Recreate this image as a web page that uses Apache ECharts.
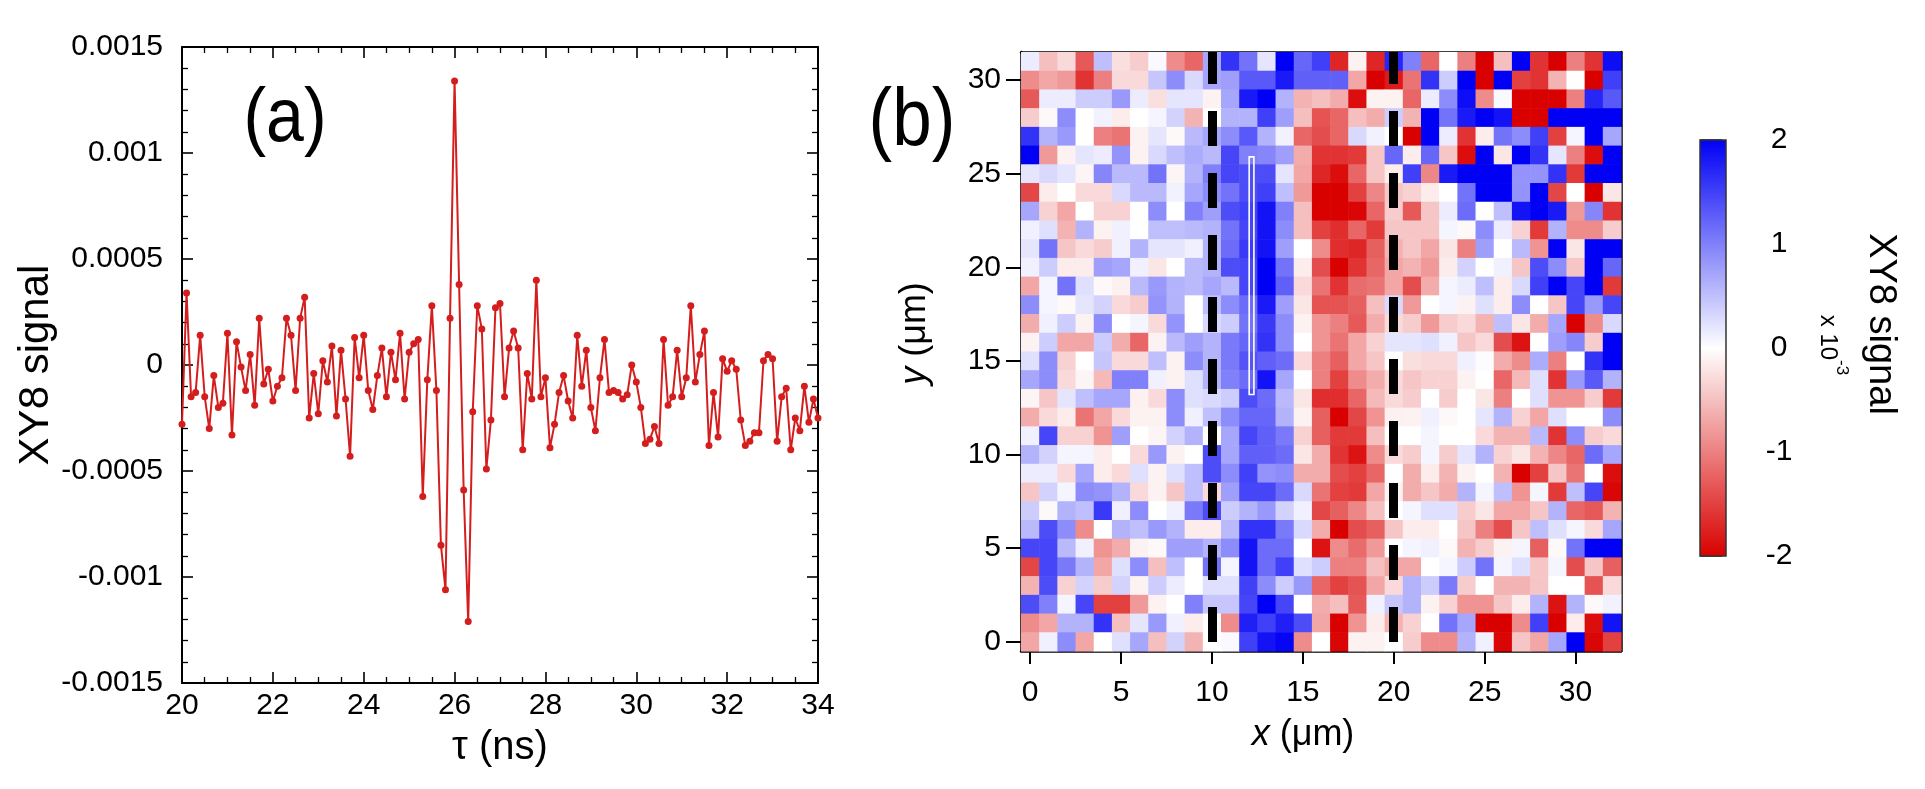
<!DOCTYPE html>
<html>
<head>
<meta charset="utf-8">
<script src="https://cdn.jsdelivr.net/npm/echarts@6/dist/echarts.min.js"></script>
<style>
html,body{margin:0;padding:0;background:#fff;}
#chart{width:1925px;height:789px;}
</style>
</head>
<body>
<div id="chart"></div>
<script>
// ---------- panel (a): XY8 signal vs tau ----------
const tauNs = [
20.0,20.1,20.2,20.3,20.4,20.5,20.6,20.7,20.8,20.9,
21.0,21.1,21.2,21.3,21.4,21.5,21.6,21.7,21.8,21.9,
22.0,22.1,22.2,22.3,22.4,22.5,22.6,22.7,22.8,22.9,
23.0,23.1,23.2,23.3,23.4,23.5,23.6,23.7,23.8,23.9,
24.0,24.1,24.2,24.3,24.4,24.5,24.6,24.7,24.8,24.9,
25.0,25.1,25.2,25.3,25.4,25.5,25.6,25.7,25.8,25.9,
26.0,26.1,26.2,26.3,26.4,26.5,26.6,26.7,26.8,26.9,
27.0,27.1,27.2,27.3,27.4,27.5,27.6,27.7,27.8,27.9,
28.0,28.1,28.2,28.3,28.4,28.5,28.6,28.7,28.8,28.9,
29.0,29.1,29.2,29.3,29.4,29.5,29.6,29.7,29.8,29.9,
30.0,30.1,30.2,30.3,30.4,30.5,30.6,30.7,30.8,30.9,
31.0,31.1,31.2,31.3,31.4,31.5,31.6,31.7,31.8,31.9,
32.0,32.1,32.2,32.3,32.4,32.5,32.6,32.7,32.8,32.9,
33.0,33.1,33.2,33.3,33.4,33.5,33.6,33.7,33.8,33.9,
34.0];
const xy8Signal = [
-0.00028,0.00034,-0.00015,-0.00013,0.00014,-0.00015,-0.00030,-0.00005,-0.00020,-0.00018,
0.00015,-0.00033,0.00011,-0.00001,-0.00012,0.00005,-0.00019,0.00022,-0.00009,-0.00002,
-0.00017,-0.00010,-0.00006,0.00022,0.00014,-0.00012,0.00022,0.00032,-0.00025,-0.00004,
-0.00023,0.00002,-0.00008,0.00009,-0.00024,0.00007,-0.00016,-0.00043,0.00013,-0.00006,
0.00014,-0.00012,-0.00021,-0.00005,0.00008,-0.00015,0.00006,-0.00007,0.00015,-0.00016,
0.00006,0.00010,0.00012,-0.00062,-0.00007,0.00028,-0.00012,-0.00085,-0.00106,0.00022,
0.00134,0.00038,-0.00059,-0.00121,-0.00022,0.00028,0.00017,-0.00049,-0.00026,0.00027,
0.00029,-0.00015,0.00008,0.00016,0.00008,-0.00040,-0.00004,-0.00016,0.00040,-0.00015,
-0.00006,-0.00039,-0.00028,-0.00013,-0.00005,-0.00017,-0.00025,0.00014,-0.00010,0.00007,
-0.00020,-0.00031,-0.00006,0.00012,-0.00013,-0.00012,-0.00013,-0.00016,-0.00014,0.00000,
-0.00008,-0.00020,-0.00037,-0.00035,-0.00029,-0.00037,0.00012,-0.00019,-0.00015,0.00007,
-0.00015,-0.00006,0.00028,-0.00008,0.00005,0.00016,-0.00038,-0.00013,-0.00034,0.00003,
-0.00003,0.00002,-0.00002,-0.00026,-0.00038,-0.00036,-0.00032,-0.00032,0.00002,0.00005,
0.00003,-0.00036,-0.00015,-0.00011,-0.00040,-0.00025,-0.00031,-0.00010,-0.00027,-0.00016,
-0.00025];

// ---------- panel (b): XY8 map (units of 1e-3), rows listed from y = 31 (top) down to y = 0 ----------
const mapXum = [0,1,2,3,4,5,6,7,8,9,10,11,12,13,14,15,16,17,18,19,20,21,22,23,24,25,26,27,28,29,30,31,32];
const mapYum = [31,30,29,28,27,26,25,24,23,22,21,20,19,18,17,16,15,14,13,12,11,10,9,8,7,6,5,4,3,2,1,0];
const mapRows = [
[0.15,-0.5,-0.3,-1.3,0.5,-0.25,-0.4,0.05,-0.9,-1.2,0.7,1.6,1.1,0.2,2,1.2,1.5,-1.7,-0.1,-1.7,1.7,1.0,-1.2,0,-1.0,-2,-0.5,2,-1.6,-2,-1.0,-1.6,1.9],
[-0.9,-0.7,-0.8,-1.6,-1.0,-0.3,-0.3,0.45,0.9,0.3,0.7,0.75,1.3,1.3,1.8,1.25,1.25,1.25,-0.7,-2,-1.8,-1.1,1.6,0.4,2,-2,2,-1.5,-1.6,-0.6,0,-2,1.5],
[-1.3,0.15,0.15,0.4,0.4,0.8,0.15,-0.25,0.2,0.2,-0.1,0.7,1.8,2,0.6,-0.6,-0.5,-0.65,-1.9,-0.1,-0.1,-1.2,0.15,0.9,1.9,-0.9,0.05,-2,-2,-2,-1.0,1.7,1.3],
[-0.4,-0.05,0.9,0,0.1,-0.15,0,0.08,0.35,-0.6,0,0.6,0.6,1.5,0.75,-0.5,-1.35,-1.2,-0.5,-0.65,0.4,-0.6,2,1.1,1.8,2,1.85,-2,-2,2,2,2,2],
[1.6,0.6,0.8,0,-1.0,-1.1,-0.1,0.2,-0.05,0.55,0.7,0.9,1.3,0.6,0.1,-1.2,-1.4,-1.2,0.3,0.1,0,-2,2,0.15,-1.6,-0.15,1.1,0.9,1.5,-1.5,0.08,2,0.7],
[2,-0.8,-0.1,0.2,0.15,0.85,-0.1,0.3,0.5,0.65,0.55,1.45,1.0,0.95,0.75,-0.65,-1.6,-1.6,-1.55,-0.45,1.2,-0.15,1.2,-0.45,-1.9,2,-0.2,2,1.6,0.2,-1.0,-1.9,2],
[0.2,0.3,0.2,-0.08,0.95,0.55,0.55,1.1,-0.08,0.6,1.0,1.45,1.4,1.4,0.2,-0.7,-1.7,-1.9,-1.2,-0.45,-0.15,1.5,-0.95,1.8,2,2,2,0.85,0.85,1.6,-1.55,2,2],
[-1.45,-0.15,0,-0.3,-0.3,0.3,0.55,0.55,0.1,0.7,0.9,1.1,1.4,1.5,0.5,-0.8,-2,-2,-1.5,-0.95,-0.45,-0.35,-0.15,0,1.1,2,2,0.85,2,-1.45,0,-2,-0.2],
[0.7,-0.35,-0.7,0,-0.35,-0.35,0,0.9,0,1.0,0.75,1.4,1.5,1.85,1.0,-0.5,-2,-2,-1.95,-1.2,-0.4,-1.3,-0.45,0.15,1.15,0,0.5,1.85,2,1.8,-0.8,0.95,-1.6],
[0.12,0.25,-0.6,0.6,-0.1,0.12,0,0.5,0.5,0.55,0.6,1.1,1.45,1.85,0.9,-0.5,-1.5,-1.65,-1.2,-1.55,-0.45,-0.45,-0.45,0.08,-0.05,0.9,0.15,-0.35,-1.55,0.6,-0.9,-0.9,-0.4],
[0.2,1.1,-0.45,-0.3,-0.4,0.12,0.6,0.2,0.2,0.12,0.6,1.15,1.55,1.85,0.75,0,-0.9,-1.65,-1.7,-1.25,-0.6,-0.45,-0.7,-0.2,-1.0,0.75,0,0.55,-0.85,2,-0.2,2,2],
[0.12,0.4,-0.15,-0.15,0.75,0.7,0.12,-0.2,0,0.55,0.6,1.4,1.45,2,1.1,-0.15,-1.4,-2,-1.6,-1.2,-0.7,-0.6,-0.8,-0.15,0.35,0,0.12,-0.45,1.4,0.9,-0.45,2,1.2],
[-0.7,0.08,1.1,0.25,-0.05,-0.12,0.55,0.8,0.6,0.55,0.7,0.55,1.45,2,1.25,-0.3,-1.1,-1.6,-1.15,-1.1,-0.7,-1.4,-0.65,0.08,0.15,0.5,-0.15,0.3,1.5,2,1.45,2,-1.55],
[0.9,0.08,-0.05,0.2,0.35,-0.3,-0.4,0.85,0.6,0,0.5,0.9,1.15,1.8,0.75,-0.2,-1.35,-1.35,-1.25,-0.5,0.3,-0.8,0,0.08,-0.1,0.25,-0.15,0.9,0,-0.45,1.45,0.8,1.45],
[-0.65,0.12,0.4,-0.1,0.9,0,0.08,-0.3,0.85,0,0.3,0.4,1.1,1.55,0.9,-0.1,-0.85,-1.0,-1.3,-0.65,-0.3,-0.4,-0.8,-0.4,-0.3,-0.6,0.5,-0.2,-0.65,0.7,-2,-0.9,0.3],
[-0.1,0.4,-0.7,-0.7,0.4,-0.65,-1.2,-0.1,0.55,0.75,0.6,1.05,1.2,1.6,0.9,0,-0.85,-1.1,-0.7,-0.35,0.2,0.2,0.25,0.12,-0.45,-0.3,-1.4,-1.85,0,0.75,0.95,-0.4,2],
[0.25,0.9,-0.35,0,0.45,-0.3,-0.3,0.5,-0.1,0.9,0.6,1.05,1.35,1.25,1.15,-0.3,-1.0,-1.25,-0.7,-0.45,0,-0.25,-0.3,-0.3,0.12,0.02,-0.65,-0.9,0.65,-1.0,0,1.6,2],
[0.7,0.9,-0.3,-0.08,-0.55,1.0,1.0,0.12,-0.1,0.25,0.6,1.0,1.15,1.85,0.7,0,-1.0,-1.5,-0.9,-0.65,-0.3,-0.45,-0.35,-0.35,-0.1,0,-1.2,-0.55,0.25,-1.6,0.8,1.3,0.6],
[-0.08,-0.45,0.2,0.5,0.7,0.7,-0.12,-0.3,0.9,0.25,0.3,0.4,1.4,1.15,0.55,-0.2,-1.65,-1.65,-1.2,-0.55,-0.3,-0.4,0,-0.4,0,-0.2,-1.0,0,0.25,-0.85,-0.85,-0.4,-1.55],
[-0.65,-0.3,-0.15,-1.1,-0.7,-0.3,-0.1,-0.1,0.9,0.12,0.5,0.9,1.2,1.2,0.6,-0.1,-1.25,-2,-1.45,-0.85,-0.12,-0.1,0.12,-0.05,0,0.2,0.6,-0.35,-0.7,0.25,0,0,0.9],
[0.12,1.45,-0.35,-0.35,-0.85,0.75,0,-0.08,0.35,0.6,0,0.7,1.45,1.25,1.05,-0.35,-1.25,-1.55,-1.55,-0.5,0,0,0.08,0,0,-0.3,-0.6,-0.6,0.55,-1.6,0.9,-0.4,-0.3],
[0.6,0.35,0.08,0.08,-0.15,0,-0.3,0.8,-0.1,0,1.4,0.7,1.25,1.25,1.15,-0.2,-0.65,-1.6,-1.85,-0.9,-0.3,-0.4,0.08,-0.4,0.2,0.6,-0.35,-0.2,-0.6,-0.95,-1.2,1.15,0.7],
[0.15,0.15,-0.3,0.7,-0.15,-0.3,0.25,-0.1,0.25,0.5,1.4,0.9,1.5,0.85,0.9,-0.65,-0.65,-1.4,-1.5,-1.2,0,-0.65,-0.15,-0.6,-0.1,0,-0.6,-2,-1.5,-0.45,-1.1,0,-1.9],
[-0.45,0.35,0.08,0.9,0.85,0.6,-0.3,-0.1,-0.45,0.5,-0.3,0.75,1.45,1.45,1.15,0.3,-1.1,-1.5,-1.55,-0.7,-0.1,-0.65,-0.45,-0.65,0.6,0.08,0.5,-0.85,0.08,-1.55,0.5,1.45,-1.95],
[0.4,-0.05,0.6,0.5,1.55,0.12,0.9,0,0.12,1.05,1.4,0.4,0.6,0.8,0.35,0.12,-1.45,-1.25,-0.95,-0.5,0,0.08,0.25,0.25,-0.4,-0.2,-0.7,-0.7,-0.45,0.6,-1.2,-1.3,-0.6],
[0.55,1.4,0.9,-0.9,0,0.6,0.5,0.8,0.6,-0.15,-0.15,0.55,1.6,1.6,1.05,0.3,-0.65,-2,-1.4,-1.25,-0.45,-0.15,-0.15,0,-0.45,-1.0,-1.4,-0.45,0.5,0.25,0.08,-0.3,0.7],
[1.45,1.45,0.55,0.12,-0.85,-0.65,-0.1,-0.05,0.75,0.75,0.6,0.9,1.85,1.15,1.15,0,-1.85,-0.9,-1.15,-0.8,0,0.08,0.12,-0.05,-0.6,-0.4,-0.1,0.08,-1.25,-0.05,1.1,2,2],
[-1.45,1.45,1.05,0.6,-0.7,0.25,0.9,-0.5,0.5,0,1.1,0.08,1.85,1.15,1.5,0.25,0.4,-1.0,-1.0,-0.5,-0.7,-0.7,0,0.08,0.4,1.1,0.08,0.25,-0.45,0.08,-1.4,-0.45,-1.25],
[-0.6,1.4,-0.35,0.35,-0.4,0.35,-0.1,0.4,0.15,0,0.25,0.25,1.5,0.9,0.4,0.8,-1.2,-1.5,-1.35,-0.7,-0.3,0.6,0.4,1.05,-0.4,0,-0.6,-0.6,-0.45,0,0,-1.35,-0.3],
[1.4,1.0,0.08,1.45,-1.5,-1.5,-0.8,-0.1,0,1.0,0.45,0.45,1.45,2,1.45,0,-0.65,-0.5,-1.3,0.12,0.45,0.6,-0.1,-0.35,-0.85,-0.85,-0.45,-0.15,0.6,-1.85,0.6,-0.05,0.1],
[-0.9,-0.7,0.6,0.6,1.6,-0.5,0.2,0.8,0.12,-0.15,0,-0.9,1.75,1.5,1.75,1.4,-0.7,-2,-0.85,-0.15,-0.6,-0.35,0,1.1,0.7,-2,-2,-0.9,1.5,-2,-0.15,-1.9,1.85],
[-0.7,0.12,0.9,-0.7,0,0.25,0.7,-0.5,0.35,-0.6,0,0.05,1.5,1.85,1.95,-0.9,0,-1.95,-0.1,-0.1,0,-0.4,-0.9,-0.9,0.6,0.12,-1.95,-0.45,-0.7,0.7,2,-1.95,-1.5]
];
const mapTicks = [0,5,10,15,20,25,30];
const boundaryXum = [10,20];                        // dashed lines
const stripeBox = [12.05,13.2,12.31,25.9];          // white outlined strip: x0,y0,x1,y1
const colorbarTicks = [-2,-1,0,1,2];
const mapColors = ['#d90000','#ffffff','#0000f5'];

// ---------- build ----------
const FONT = '"Liberation Sans", Arial, Helvetica, sans-serif';
const lineData = tauNs.map((t,i)=>[t, xy8Signal[i]]);
const mapData = [];
mapRows.forEach((row,ri)=>{ row.forEach((v,ci)=>{ mapData.push([mapXum[ci], mapYum[ri], v]); }); });

function sigLabel(v){
  if (Math.abs(v) < 1e-12) return '0';
  return String(parseFloat(v.toPrecision(2)));
}
const black = '#000';
const innerAxis = (extra) => Object.assign({
  axisLine:{show:true, onZero:false, lineStyle:{color:black, width:2}},
  axisTick:{show:true, inside:true, length:11, lineStyle:{color:black, width:1.6}},
  splitLine:{show:false}, minorSplitLine:{show:false}
}, extra);
const minor = (n) => ({show:true, splitNumber:n, length:6, lineStyle:{color:black, width:1.3}});

const chart = echarts.init(document.getElementById('chart'), null, {renderer:'canvas'});
const option = {
  animation:false,
  backgroundColor:'#fff',
  textStyle:{fontFamily:FONT, color:black},
  grid:[
    {left:182, top:47, width:636, height:636},
    {left:1021, top:52, width:600, height:599},
    {left:1700, top:140, width:26, height:416}
  ],
  visualMap:[{
    type:'continuous', show:false, seriesIndex:1, dimension:2,
    min:-2, max:2, inRange:{color:mapColors}
  }],
  xAxis:[
    innerAxis({gridIndex:0, type:'value', position:'bottom', min:20, max:34, interval:2,
      minorTick:minor(4),
      axisLabel:{fontSize:30, margin:8, color:black, fontFamily:FONT},
      name:'τ (ns)', nameLocation:'middle', nameGap:45,
      nameTextStyle:{fontSize:40, color:black, fontFamily:FONT}}),
    innerAxis({gridIndex:0, type:'value', position:'top', min:20, max:34, interval:2,
      minorTick:minor(4), axisLabel:{show:false}}),
    {gridIndex:1, type:'value', position:'bottom', min:-0.5, max:32.5,
      axisLine:{show:true, onZero:false, lineStyle:{color:black, width:2.5}},
      axisTick:{show:true, inside:false, length:13, customValues:mapTicks, lineStyle:{color:black, width:2}},
      axisLabel:{fontSize:30, margin:27, color:black, fontFamily:FONT, customValues:mapTicks},
      splitLine:{show:false},
      name:'{i|x} (μm)', nameLocation:'middle', nameGap:66,
      nameTextStyle:{fontSize:36, color:black, fontFamily:FONT, padding:[0,36,0,0],
        rich:{i:{fontSize:36, fontStyle:'italic', fontFamily:FONT, color:black}}}},
    {gridIndex:1, type:'value', position:'top', min:-0.5, max:32.5,
      axisLine:{show:true, onZero:false, lineStyle:{color:black, width:2.5}},
      axisTick:{show:false}, axisLabel:{show:false}, splitLine:{show:false}},
    {gridIndex:2, type:'value', min:0, max:1, show:false}
  ],
  yAxis:[
    innerAxis({gridIndex:0, type:'value', position:'left', min:-0.0015, max:0.0015, interval:0.0005,
      minorTick:minor(5),
      axisLabel:{fontSize:30, margin:19, color:black, fontFamily:FONT, formatter:sigLabel},
      name:'XY8 signal', nameLocation:'middle', nameGap:124,
      nameTextStyle:{fontSize:42, color:black, fontFamily:FONT}}),
    innerAxis({gridIndex:0, type:'value', position:'right', min:-0.0015, max:0.0015, interval:0.0005,
      minorTick:minor(5), axisLabel:{show:false}}),
    {gridIndex:1, type:'value', position:'left', min:-0.5, max:31.5,
      axisLine:{show:true, onZero:false, lineStyle:{color:black, width:2.5}},
      axisTick:{show:true, inside:false, length:15, customValues:mapTicks, lineStyle:{color:black, width:2}},
      axisLabel:{fontSize:30, margin:20, color:black, fontFamily:FONT, customValues:mapTicks},
      splitLine:{show:false},
      name:'{i|y} (μm)', nameLocation:'middle', nameGap:88,
      nameTextStyle:{fontSize:36, color:black, fontFamily:FONT, padding:[0,0,0,36],
        rich:{i:{fontSize:36, fontStyle:'italic', fontFamily:FONT, color:black}}}},
    {gridIndex:1, type:'value', position:'right', min:-0.5, max:31.5,
      axisLine:{show:true, onZero:false, lineStyle:{color:black, width:2.5}},
      axisTick:{show:false}, axisLabel:{show:false}, splitLine:{show:false}},
    {gridIndex:2, type:'value', position:'right', min:-2, max:2, interval:1,
      axisLine:{show:false},
      axisTick:{show:true, inside:false, length:22, lineStyle:{color:'#222', width:1.5}},
      axisLabel:{fontSize:30, margin:53, align:'center', color:black, fontFamily:FONT},
      splitLine:{show:false}}
  ],
  series:[
    {
      type:'line', xAxisIndex:0, yAxisIndex:0, data:lineData,
      symbol:'circle', symbolSize:7, showSymbol:true,
      lineStyle:{color:'#d41e1e', width:2},
      itemStyle:{color:'#d41e1e'},
      z:5
    },
    {
      type:'custom', xAxisIndex:2, yAxisIndex:2, data:mapData,
      encode:{x:0, y:1},
      renderItem:function(params, api){
        const x = api.value(0), y = api.value(1);
        const p0 = api.coord([x-0.5, y+0.5]);
        const p1 = api.coord([x+0.5, y-0.5]);
        return {type:'rect', shape:{x:p0[0], y:p0[1], width:p1[0]-p0[0]+0.6, height:p1[1]-p0[1]+0.6},
          style:{fill:api.visual('color')}};
      },
      markLine:{
        silent:true, symbol:['none','none'], label:{show:false}, animation:false,
        lineStyle:{color:black, width:9, type:[35,27], dashOffset:53, cap:'butt'},
        data:boundaryXum.map(v=>({xAxis:v}))
      }
    },
    {
      type:'custom', xAxisIndex:4, yAxisIndex:4, data:[[0, colorbarTicks[0]]],
      renderItem:function(params, api){
        const p0 = api.coord([0, colorbarTicks[colorbarTicks.length-1]]);
        const p1 = api.coord([1, colorbarTicks[0]]);
        return {type:'rect', shape:{x:p0[0], y:p0[1], width:p1[0]-p0[0], height:p1[1]-p0[1]},
          style:{fill:new echarts.graphic.LinearGradient(0,0,0,1,[
            {offset:0, color:mapColors[2]}, {offset:0.5, color:mapColors[1]}, {offset:1, color:mapColors[0]}]),
            stroke:'#333', lineWidth:1.5}};
      }
    },
    {
      type:'custom', xAxisIndex:2, yAxisIndex:2, z:20, silent:true,
      data:[stripeBox], encode:{x:[0,2], y:[1,3]},
      renderItem:function(params, api){
        const a = api.coord([api.value(0), api.value(3)]);
        const b = api.coord([api.value(2), api.value(1)]);
        return {type:'rect', shape:{x:a[0], y:a[1], width:b[0]-a[0], height:b[1]-a[1]},
          style:{fill:null, stroke:'#ffffff', lineWidth:1.6}};
      }
    }
  ],
  graphic:[
    {type:'text', x:285, y:120, scaleY:1.12, style:{text:'(a)', fontSize:68, fontFamily:FONT, fill:black, align:'center', verticalAlign:'middle'}},
    {type:'text', x:912, y:122, scaleY:1.15, style:{text:'(b)', fontSize:71, fontFamily:FONT, fill:black, align:'center', verticalAlign:'middle'}},
    {type:'text', x:1880, y:324, rotation:-Math.PI/2,
      style:{text:'XY8 signal', fontSize:38, fontFamily:FONT, fill:black, align:'center', verticalAlign:'middle'}},
    {type:'text', x:1833, y:345, rotation:-Math.PI/2,
      style:{text:'{b|x 10}{s|-3}', fontFamily:FONT, fill:black, align:'center', verticalAlign:'middle',
        rich:{b:{fontSize:24, lineHeight:34, verticalAlign:'bottom', fontFamily:FONT, fill:black},
              s:{fontSize:17, lineHeight:34, verticalAlign:'top', fontFamily:FONT, fill:black}}}}
  ]
};
chart.setOption(option);
</script>
</body>
</html>
